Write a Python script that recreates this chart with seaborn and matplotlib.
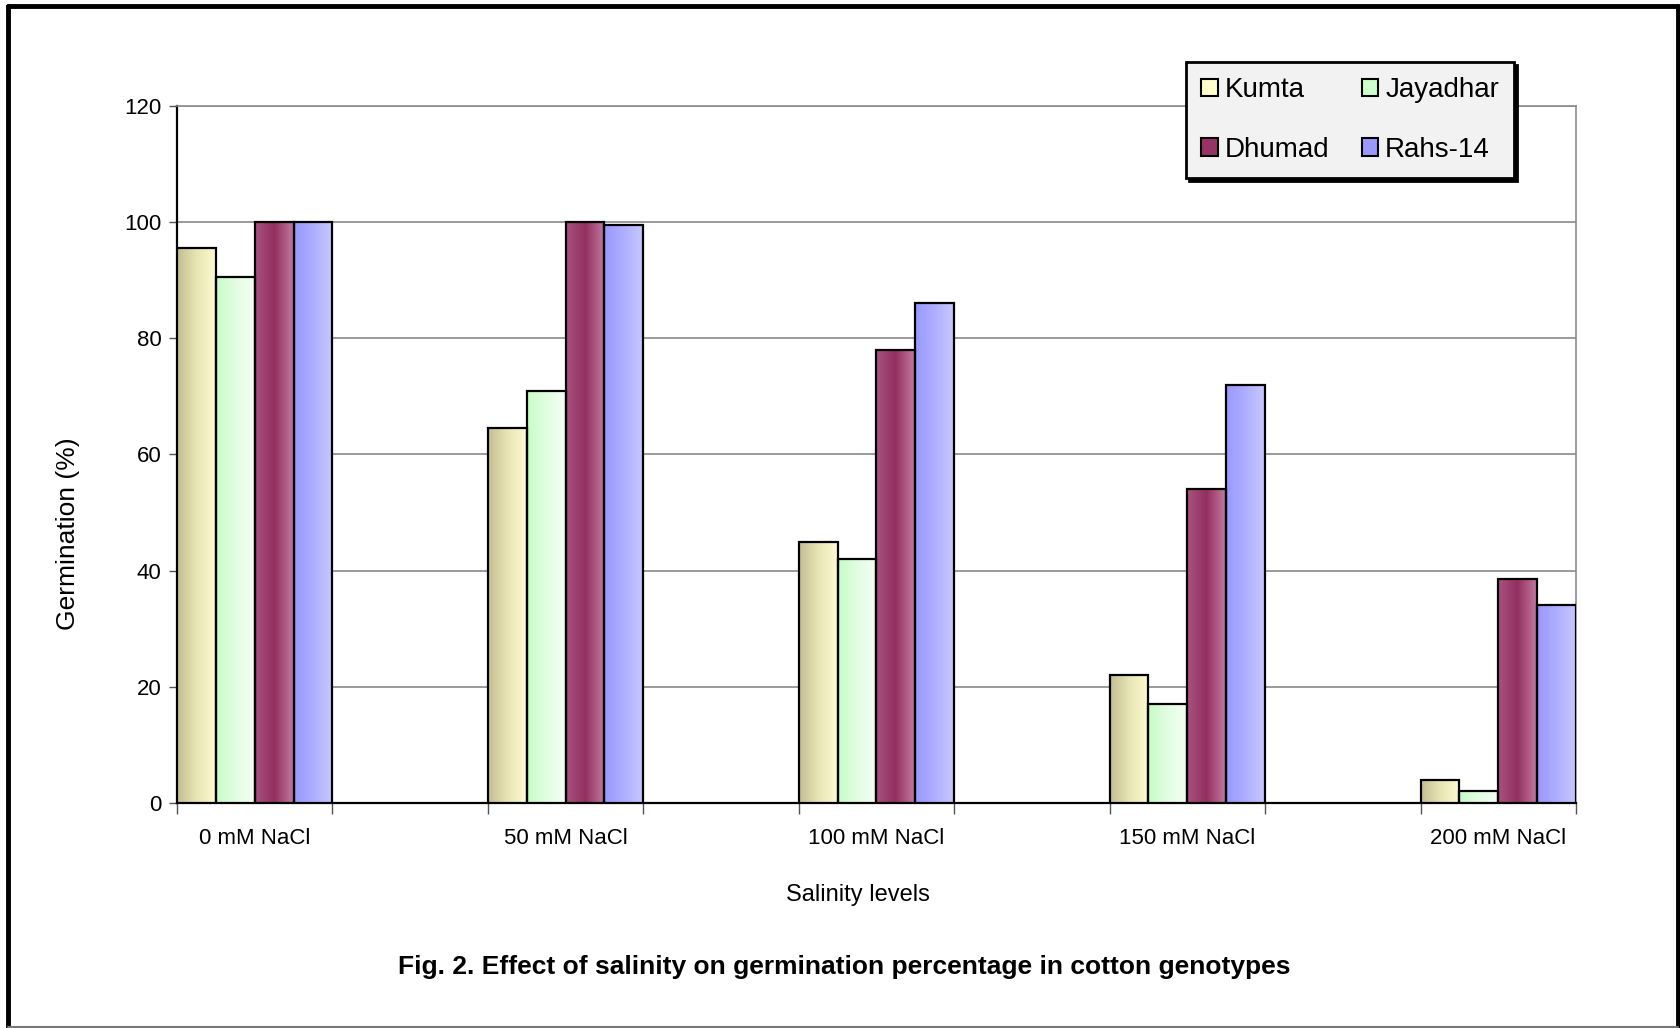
import numpy as np
import pandas as pd
import matplotlib
matplotlib.use("Agg")
import matplotlib.pyplot as plt
import seaborn as sns
from matplotlib.colors import LinearSegmentedColormap
from matplotlib.patches import Patch
from matplotlib.lines import Line2D

# values
levels = ['0 mM NaCl', '50 mM NaCl', '100 mM NaCl', '150 mM NaCl', '200 mM NaCl']
genotypes = ['Kumta', 'Jayadhar', 'Dhumad', 'Rahs-14']
kumta = [95.5, 64.5, 45, 22, 4]
jayadhar = [90.5, 71, 42, 17, 2]
dhumad = [100, 100, 78, 54, 38.5]
rahs14 = [100, 99.5, 86, 72, 34]

base_colors = ['#ffffcc', '#ccffcc', '#993366', '#9999ff']
gradients = [['#c2bd93', '#e8e5b4', '#fdfbd2'],
             ['#c6fcc6', '#e2fde2', '#f4fff4'],
             ['#a85280', '#933060', '#c47ba0'],
             ['#9898ff', '#aeaeff', '#c8c8ff']]

df = pd.DataFrame({
    'level': levels * 4,
    'genotype': np.repeat(genotypes, len(levels)),
    'germ': kumta + jayadhar + dhumad + rahs14,
})

sns.set_style("white")
plt.rcParams['font.family'] = ['Liberation Sans', 'DejaVu Sans']
plt.rcParams['text.color'] = 'black'
plt.rcParams['axes.labelcolor'] = 'black'
plt.rcParams['xtick.color'] = 'black'
plt.rcParams['ytick.color'] = 'black'

fig = plt.figure(figsize=(16.81, 10.28), dpi=100)
ax = fig.add_axes([0.1053, 0.2189, 0.9375 - 0.1053, 0.8969 - 0.2189])

sns.barplot(data=df, x='level', y='germ', hue='genotype', hue_order=genotypes,
            palette=base_colors, width=0.5, edgecolor='black', linewidth=1.6,
            legend=False, ax=ax, zorder=3)

# gradient fill clipped to each bar
grad = np.linspace(0, 1, 256).reshape(1, -1)
for cont, stops in zip(ax.containers, gradients):
    cmap = LinearSegmentedColormap.from_list('g', stops)
    for bar in cont:
        x0, y0 = bar.get_x(), bar.get_y()
        w, h = bar.get_width(), bar.get_height()
        im = ax.imshow(grad, cmap=cmap, aspect='auto', extent=(x0, x0 + w, y0, y0 + h),
                       zorder=2.9, interpolation='bilinear')
        im.set_clip_path(bar)
        bar.set_facecolor('none')

ax.set_xlim(-0.25, 4.25)
ax.set_ylim(0, 120)
ax.set_yticks(range(0, 121, 20))
ax.yaxis.grid(True, color='#7f7f7f', linewidth=1.1, zorder=1)
ax.set_axisbelow(True)

ax.set_xticks(np.arange(-0.25, 4.3, 0.5), minor=True)
ax.tick_params(axis='x', which='major', length=0, pad=18, labelsize=16)
ax.tick_params(axis='x', which='minor', length=8, width=1, color='#555555', direction='out', bottom=True)
ax.tick_params(axis='y', length=6, width=1, color='#555555', direction='out', left=True, pad=5, labelsize=16)

for side in ['top', 'right']:
    ax.spines[side].set_color('#8c8c8c')
    ax.spines[side].set_linewidth(1.2)
for side in ['left', 'bottom']:
    ax.spines[side].set_color('black')
    ax.spines[side].set_linewidth(1.6)

ax.set_xlabel('Salinity levels', fontsize=17)
ax.set_ylabel('Germination (%)', fontsize=19)
ax.xaxis.set_label_coords(0.4866, -0.1167)
ax.yaxis.set_label_coords(-0.0696, 0.386)

# row-major legend: Kumta, Jayadhar / Dhumad, Rahs-14
order = [0, 2, 1, 3]
handles = [Patch(facecolor=base_colors[i], edgecolor='black', linewidth=1.5) for i in order]
labels = [genotypes[i] for i in order]
leg = fig.legend(handles, labels, loc='upper left', bbox_to_anchor=(0.7056, 0.9397),
                 borderaxespad=0, ncol=2, fontsize=20, frameon=True, fancybox=False,
                 handlelength=0.6, handleheight=0.6, handletextpad=0.25,
                 columnspacing=1.15, labelspacing=1.2, borderpad=0.55,
                 shadow={'color': 'black', 'alpha': 1})
leg.get_frame().set_facecolor('#f2f2f2')
leg.get_frame().set_edgecolor('black')
leg.get_frame().set_linewidth(2)

fig.text(0.5025, 1 - 967 / 1028, 'Fig. 2. Effect of salinity on germination percentage in cotton genotypes',
         ha='center', va='center', fontsize=19, fontweight='bold',
         family=['Liberation Sans Narrow', 'Liberation Sans'])

# outer frame of the figure
fig.add_artist(Line2D([8 / 1681, 8 / 1681], [0, 1 - 6 / 1028], color='black', lw=3.5, transform=fig.transFigure))
fig.add_artist(Line2D([8 / 1681, 1678 / 1681], [1 - 6 / 1028, 1 - 6 / 1028], color='black', lw=3.5, transform=fig.transFigure))
fig.add_artist(Line2D([1678 / 1681, 1678 / 1681], [0, 1 - 6 / 1028], color='black', lw=3.5, transform=fig.transFigure))
fig.add_artist(Line2D([8 / 1681, 1678 / 1681], [1 / 1028, 1 / 1028], color='#777777', lw=1.5, transform=fig.transFigure))

fig.savefig('out.png', dpi=100)
